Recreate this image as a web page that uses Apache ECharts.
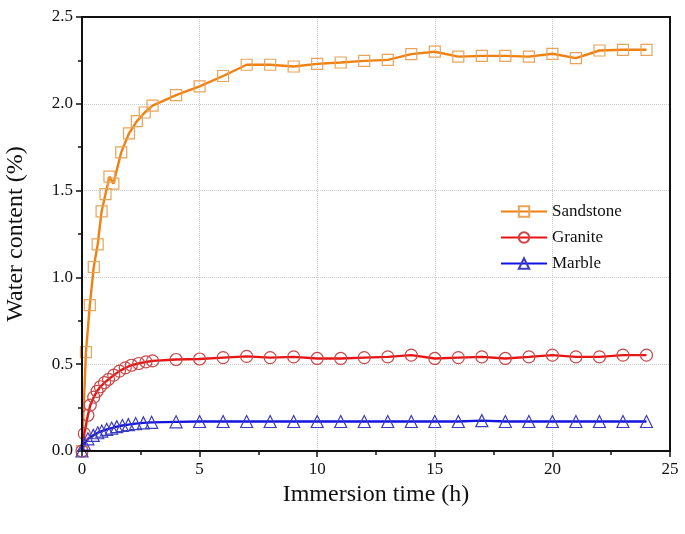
<!DOCTYPE html>
<html><head><meta charset="utf-8">
<script src="https://cdn.jsdelivr.net/npm/echarts@6/dist/echarts.min.js"></script>
<style>html,body{margin:0;padding:0;background:#fff}#c{width:685px;height:534px}</style>
</head><body><div id="c"></div>
<script>
const seriesNames = ['Sandstone','Granite','Marble'];
const sandstone = [[0,0],[0.167,0.57],[0.333,0.84],[0.5,1.06],[0.667,1.19],[0.833,1.38],[1,1.48],[1.167,1.58],[1.333,1.54],[1.667,1.72],[2,1.83],[2.333,1.90],[2.667,1.95],[3,1.99],[4,2.05],[5,2.10],[6,2.16],[7,2.225],[8,2.225],[9,2.215],[10,2.23],[11,2.238],[12,2.247],[13,2.253],[14,2.286],[15,2.30],[16,2.272],[17,2.276],[18,2.276],[19,2.272],[20,2.288],[21,2.263],[22,2.307],[23,2.311],[24,2.311]];
const granite = [[0,0],[0.1,0.10],[0.25,0.206],[0.35,0.264],[0.5,0.31],[0.64,0.344],[0.78,0.37],[0.96,0.394],[1.13,0.413],[1.35,0.437],[1.59,0.46],[1.84,0.479],[2.1,0.494],[2.41,0.504],[2.72,0.513],[3,0.519],[4,0.527],[5,0.53],[6,0.538],[7,0.545],[8,0.538],[9,0.542],[10,0.533],[11,0.533],[12,0.538],[13,0.542],[14,0.552],[15,0.533],[16,0.538],[17,0.542],[18,0.533],[19,0.542],[20,0.552],[21,0.542],[22,0.542],[23,0.552],[24,0.552]];
const marble = [[0,0],[0.1,0.04],[0.25,0.07],[0.48,0.09],[0.67,0.105],[0.84,0.115],[1.05,0.125],[1.26,0.132],[1.48,0.14],[1.72,0.147],[1.97,0.152],[2.28,0.158],[2.61,0.162],[2.96,0.165],[4,0.168],[5,0.17],[6,0.17],[7,0.17],[8,0.17],[9,0.17],[10,0.17],[11,0.17],[12,0.17],[13,0.17],[14,0.17],[15,0.17],[16,0.17],[17,0.175],[18,0.17],[19,0.17],[20,0.17],[21,0.17],[22,0.17],[23,0.17],[24,0.17]];
const xTitle = 'Immersion time (h)';
const yTitle = 'Water content (%)';

const font = 'Liberation Serif';
const chart = echarts.init(document.getElementById('c'));
function mk(name, data, sym, lineColor, markColor, size){
  return {name, type:'line', data, symbol:sym, symbolSize:size, showAllSymbol:true,
    lineStyle:{color:lineColor, width:2.4}, itemStyle:{color:'rgba(255,255,255,0)', borderColor:markColor, borderWidth:1.2},
    emphasis:{disabled:true}, z: 3};
}
chart.setOption({
  animation:false,
  grid:{left:82, right:15, top:17, bottom:83, containLabel:false, outerBoundsMode:'none'},
  legend:{orient:'vertical', left:495, top:198, itemWidth:46, itemHeight:13, itemGap:9,
    textStyle:{fontFamily:font, fontSize:17, color:'#111'},
    data:seriesNames.map(n=>({name:n}))},
  xAxis:{type:'value', min:0, max:25, interval:5, name:xTitle, nameLocation:'middle', nameGap:23,
    nameTextStyle:{fontFamily:font, fontSize:24, color:'#111'},
    axisLine:{lineStyle:{color:'#111', width:2}},
    axisTick:{inside:false, length:6, lineStyle:{color:'#111', width:1.5}},
    minorTick:{show:true, splitNumber:2, length:4, lineStyle:{color:'#111', width:1.5}},
    axisLabel:{fontFamily:font, fontSize:17, color:'#111', margin:10},
    splitLine:{show:true, lineStyle:{color:'#ccc', type:'dotted', width:1}}},
  yAxis:{type:'value', min:0, max:2.5, interval:0.5, name:yTitle, nameLocation:'middle', nameGap:54,
    nameTextStyle:{fontFamily:font, fontSize:24, color:'#111'},
    axisLine:{lineStyle:{color:'#111', width:2}},
    axisTick:{inside:false, length:6, lineStyle:{color:'#111', width:1.5}},
    minorTick:{show:true, splitNumber:2, length:4, lineStyle:{color:'#111', width:1.5}},
    axisLabel:{fontFamily:font, fontSize:17, color:'#111', margin:9, formatter:v=>v.toFixed(1)},
    splitLine:{show:true, lineStyle:{color:'#ccc', type:'dotted', width:1}}},
  graphic:[{type:'rect', shape:{x:82, y:17, width:588, height:434}, style:{fill:'none', stroke:'#111', lineWidth:2}, silent:true, z:10}],
  series:[
    mk(seriesNames[0], sandstone, 'rect', '#F08010', '#E8A45A', 11),
    mk(seriesNames[1], granite, 'circle', '#E81414', '#C84848', 12),
    mk(seriesNames[2], marble, 'triangle', '#1414E0', '#3C3CC0', 12)
  ]
});
</script></body></html>
